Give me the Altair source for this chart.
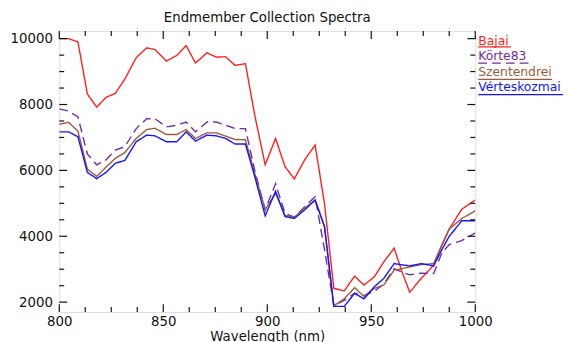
import altair as alt
import pandas as pd

wavelength = [800, 804.5, 809, 813.5, 818, 822.5, 827, 831.5, 837, 842,
              846, 851.5, 856.5, 861, 865.5, 871, 875.5, 880, 884.5, 889.5,
              894, 899, 904, 908.5, 913, 918, 923, 927.5, 932, 937,
              942, 946.5, 951.5, 956, 961, 965, 968.5, 974, 980, 984,
              987.5, 993.5, 1000]

bajai = [10000, 10000, 9900, 8320, 7920, 8220, 8340, 8770, 9420, 9720,
         9670, 9320, 9490, 9790, 9260, 9570, 9440, 9450, 9190, 9240,
         7670, 6170, 6970, 6120, 5740, 6320, 6770, 5000, 2420, 2340,
         2790, 2520, 2770, 3220, 3640, 2880, 2300, 2720, 3120, 3730,
         4220, 4820, 5100]

korte83 = [7870, 7800, 7620, 6500, 6170, 6320, 6620, 6720, 7270, 7570,
           7570, 7320, 7370, 7470, 7170, 7470, 7470, 7370, 7270, 7270,
           6000, 4800, 5600, 4700, 4580, 4900, 5200, 3600, 1900, 2050,
           2270, 2200, 2330, 2550, 3020, 2900, 2830, 2880, 2870, 3500,
           3750, 3870, 4100]

szentendrei = [7400, 7460, 7190, 6040, 5820, 6100, 6370, 6540, 6970, 7240,
               7280, 7090, 7090, 7240, 6970, 7140, 7140, 7040, 6940, 6930,
               5900, 4820, 5300, 4640, 4580, 4850, 5100, 4300, 1890, 2100,
               2440, 2170, 2420, 2520, 2970, 3020, 3070, 3140, 3170, 3750,
               4220, 4540, 4770]

verteskozmai = [7170, 7170, 7020, 5940, 5750, 5940, 6220, 6300, 6870, 7070,
                7050, 6870, 6870, 7170, 6890, 7070, 7050, 6970, 6800, 6800,
                5810, 4620, 5370, 4600, 4540, 4800, 5100, 4300, 1870, 1870,
                2270, 2100, 2470, 2720, 3170, 3130, 3100, 3170, 3100, 3600,
                4000, 4470, 4470]

series_names = ["Bajai", "Körte83", "Szentendrei", "Vérteskozmai"]
series_values = [bajai, korte83, szentendrei, verteskozmai]

x_major = [800, 850, 900, 950, 1000]
x_minor = [812.5, 825, 837.5, 862.5, 875, 887.5, 912.5, 925, 937.5,
           962.5, 975, 987.5]
y_major = [2000, 4000, 6000, 8000, 10000]
y_minor = [2500, 3000, 3500, 4500, 5000, 5500, 6500, 7000, 7500,
           8500, 9000, 9500]

# ---- styles ----
colors = ["#FF1E1E", "#6F2DA8", "#9C5B3B", "#1414FF"]
dashes = [[1, 0], [9, 5], [1, 0], [1, 0]]
FONT = "DejaVu Sans"
W, H = 422, 285
MAJ, MIN = 8, 5

rows = []
for name, vals in zip(series_names, series_values):
    for w, v in zip(wavelength, vals):
        rows.append({"wl": w, "val": v, "series": name})
df = pd.DataFrame(rows)

x_scale = alt.Scale(domain=[800, 1000], nice=False, zero=False)
y_scale = alt.Scale(domain=[1700, 10230], nice=False, zero=False)

x_axis = alt.Axis(title="Wavelength (nm)", values=x_major, ticks=False,
                  domain=False, grid=False, format="d", labelFont=FONT,
                  labelFontSize=13.5, labelColor="#111", labelPadding=3,
                  titleFont=FONT, titleFontSize=13.5,
                  titleFontWeight="normal", titleColor="#111",
                  titlePadding=1, labelFlush=False)
y_axis = alt.Axis(title="", values=y_major, ticks=False, domain=False,
                  grid=False, format="d", labelFont=FONT, labelFontSize=13.5,
                  labelColor="#111", labelPadding=7, labelFlush=False)

lines = alt.Chart(df).mark_line(strokeWidth=1.4, clip=True).encode(
    x=alt.X("wl:Q", scale=x_scale, axis=x_axis),
    y=alt.Y("val:Q", scale=y_scale, axis=y_axis),
    color=alt.Color("series:N", scale=alt.Scale(domain=series_names, range=colors),
                    legend=None),
    strokeDash=alt.StrokeDash("series:N",
                              scale=alt.Scale(domain=series_names, range=dashes),
                              legend=None),
    detail="series:N",
)


def xticks(vals, length, top):
    d = pd.DataFrame({"wl": vals})
    if top:
        yy, yy2 = 0, length
    else:
        yy, yy2 = H, H - length
    return alt.Chart(d).mark_rule(color="#111", strokeWidth=1.2).encode(
        x=alt.X("wl:Q", scale=x_scale, axis=x_axis),
        y=alt.value(yy), y2=alt.value(yy2))


def yticks(vals, length, right):
    d = pd.DataFrame({"val": vals})
    if right:
        xx, xx2 = W, W - length
    else:
        xx, xx2 = 0, length
    return alt.Chart(d).mark_rule(color="#111", strokeWidth=1.2).encode(
        y=alt.Y("val:Q", scale=y_scale, axis=y_axis),
        x=alt.value(xx), x2=alt.value(xx2))


ticks = [xticks(x_major, MAJ, False), xticks(x_minor, MIN, False),
         xticks(x_major, MAJ, True), xticks(x_minor, MIN, True),
         yticks(y_major, MAJ, False), yticks(y_minor, MIN, False),
         yticks(y_major, MAJ, True), yticks(y_minor, MIN, True)]

# ---- legend (IDL style: coloured text with line sample beneath) ----
leg_x = 425
leg_base = [14, 29, 45.5, 61]
leg_line = [16, 32.5, 49, 64.5]
leg_width = [33, 53, 75, 86]
legend_layers = []
for name, c, dsh, b, u, lw in zip(series_names, colors, dashes, leg_base,
                                  leg_line, leg_width):
    d = pd.DataFrame({"label": [name]})
    legend_layers.append(
        alt.Chart(d).mark_text(align="left", baseline="alphabetic", color=c,
                               font=FONT, fontSize=12.5).encode(
            x=alt.value(leg_x), y=alt.value(b), text="label:N"))
    legend_layers.append(
        alt.Chart(d).mark_rule(color=c, strokeWidth=1.3, strokeDash=dsh).encode(
            x=alt.value(leg_x), x2=alt.value(leg_x + lw), y=alt.value(u)))

chart = alt.layer(lines, *ticks, *legend_layers).properties(
    width=W, height=H,
    title=alt.TitleParams("Endmember Collection Spectra", font=FONT,
                          fontSize=13.5, fontWeight="normal", color="#111",
                          anchor="middle", offset=6),
    autosize=alt.AutoSizeParams(type="none"),
    padding={"left": 52, "top": 21, "right": 89, "bottom": 28},
).configure_view(stroke="#111", strokeWidth=1.5).configure(background="white")

chart.save("out.html", embed_options={"renderer": "svg", "actions": False})
